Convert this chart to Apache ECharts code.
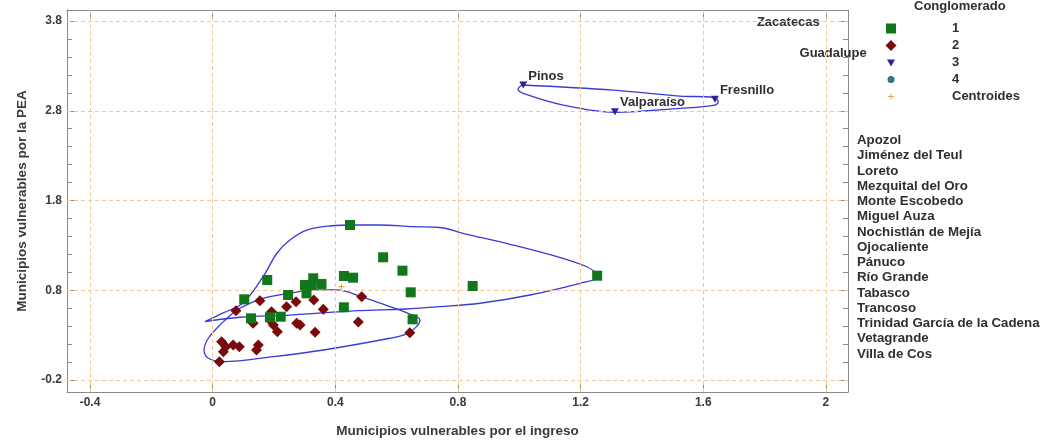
<!DOCTYPE html>
<html>
<head>
<meta charset="utf-8">
<script src="https://cdn.jsdelivr.net/npm/echarts@6/dist/echarts.min.js"></script>
<style>
html,body{margin:0;padding:0;background:#fff;}
#chart{width:1051px;height:443px;}
</style>
</head>
<body>
<div id="chart"></div>
<script>
// ---------- data ----------
const xTickLabels = [-0.4, 0, 0.4, 0.8, 1.2, 1.6, 2];
const yTickLabels = [-0.2, 0.8, 1.8, 2.8, 3.8];
const yMinorTicks = [-0.2,0,0.2,0.4,0.6,0.8,1.0,1.2,1.4,1.6,1.8,2.0,2.2,2.4,2.6,2.8,3.0,3.2,3.4,3.6,3.8];

const cluster1 = [
  [0.448,1.527],[0.556,1.167],[0.619,1.018],[0.646,0.777],[0.848,0.847],[1.254,0.962],
  [0.178,0.914],[0.428,0.959],[0.458,0.940],[0.328,0.933],[0.301,0.858],[0.355,0.870],
  [0.323,0.858],[0.306,0.766],[0.246,0.747],[0.103,0.699],[0.428,0.610],[0.125,0.487],
  [0.187,0.499],[0.222,0.505],[0.652,0.476]
];
const cluster2 = [
  [0.154,0.684],[0.076,0.572],[0.272,0.672],[0.241,0.617],[0.330,0.691],[0.361,0.588],
  [0.486,0.728],[0.475,0.446],[0.643,0.327],[0.334,0.331],[0.274,0.432],[0.285,0.413],
  [0.192,0.561],[0.187,0.469],[0.198,0.413],[0.211,0.338],[0.132,0.432],[0.149,0.190],
  [0.143,0.134],[0.087,0.171],[0.067,0.190],[0.029,0.227],[0.035,0.115],[0.022,0.004],
  [0.043,0.171]
];
const cluster3Names = ["Pinos","Fresnillo","Valparaíso"];
const cluster3 = [[1.013,3.087],[1.638,2.928],[1.312,2.789]];
const cluster4 = [];
const centroids = [[0.42,0.84]];

const outsideLabelNames = ["Zacatecas","Guadalupe"];
const outsideLabelPos = [[1.775,3.79],[1.914,3.443]];

const contour1 = [
  [-0.025,0.450],[0.034,0.547],[0.099,0.658],[0.164,0.948],[0.210,1.215],[0.252,1.360],
  [0.307,1.471],[0.382,1.516],[0.470,1.527],[0.545,1.527],[0.653,1.508],[0.741,1.499],
  [0.816,1.435],[0.979,1.304],[1.123,1.174],[1.220,1.062],[1.253,0.989],[1.263,0.951],
  [1.198,0.877],[1.035,0.747],[0.872,0.655],[0.741,0.617],[0.627,0.591],[0.470,0.572],
  [0.252,0.523],[0.089,0.499],[-0.025,0.450]
];
const contour2 = [
  [0.078,0.580],[0.154,0.699],[0.252,0.766],[0.339,0.803],[0.404,0.803],[0.491,0.721],
  [0.578,0.617],[0.643,0.535],[0.676,0.468],[0.665,0.394],[0.633,0.313],[0.578,0.265],
  [0.361,0.134],[0.198,0.060],[0.035,0.004],[-0.014,0.042],[-0.028,0.134],[-0.014,0.265],
  [0.024,0.414],[0.078,0.580]
];
const contour3 = [
  [1.008,3.087],[1.306,3.031],[1.524,2.964],[1.632,2.950],[1.649,2.901],[1.638,2.864],
  [1.524,2.827],[1.312,2.783],[1.143,2.864],[1.013,2.994],[0.996,3.039],[1.008,3.087]
];

const sideNames = ["Apozol","Jiménez del Teul","Loreto","Mezquital del Oro","Monte Escobedo",
  "Miguel Auza","Nochistlán de Mejía","Ojocaliente","Pánuco","Río Grande","Tabasco",
  "Trancoso","Trinidad García de la Cadena","Vetagrande","Villa de Cos"];

const xTitle = "Municipios vulnerables por el ingreso";
const yTitle = "Municipios vulnerables por la PEA";
const legendTitle = "Conglomerado";

// ---------- chart ----------
const FONT = "Liberation Sans, Arial, sans-serif";
const AXC = "#8a8a8a";
const TXT = "#2f2f2f";
const fmt = v => String(parseFloat(Number(v).toFixed(1)));
const X_MIN = -0.475, X_MAX = 2.072, Y_MIN = -0.334, Y_MAX = 3.923;

// legend icons (padded paths so that the drawn glyphs keep their own size in the legend box)
const ICON_RECT = 'path://M0,0M12,12M1,1H11V11H1Z';
const ICON_DIAMOND = 'path://M0,0M12,12M6,0.5L11.5,6L6,11.5L0.5,6Z';
const ICON_TRI = 'path://M0,0M12,12M2,3H10L6,10Z';
const ICON_CIRCLE = 'path://M0,0M12,12M9.5,6A3.5,3.5,0,1,1,2.5,6A3.5,3.5,0,1,1,9.5,6Z';
const ICON_PLUS = 'path://M0,0M12,12M5.5,3H6.5V5.5H9V6.5H6.5V9H5.5V6.5H3V5.5H5.5Z';
const SYM_TRI = 'path://M0,0L10,0L5,9Z';
const SYM_PLUS = 'path://M4,0H6V4H10V6H6V10H4V6H0V4H4Z';

const chart = echarts.init(document.getElementById('chart'), null, {renderer:'canvas'});

const graphics = [{
  type:'text', left: 914, top: 0,
  style:{text: legendTitle, font: "bold 13px " + FONT, fill:TXT}
}];
sideNames.forEach((n,i) => {
  graphics.push({type:'text', left: 857, top: 134 + i*15.25,
    style:{text:n, font:"bold 13.3px " + FONT, fill:TXT}});
});

const baseX = {
  type:'value', min:X_MIN, max:X_MAX, splitLine:{show:false},
  axisLine:{show:true, onZero:false, lineStyle:{color:AXC, width:1}},
};
const baseY = {
  type:'value', min:Y_MIN, max:Y_MAX, splitLine:{show:false},
  axisLine:{show:true, onZero:false, lineStyle:{color:AXC, width:1}},
};

const labelFont = {fontFamily:FONT, fontWeight:'bold', fontSize:13, color:TXT};

const option = {
  animation:false,
  backgroundColor:'#fff',
  textStyle:{fontFamily:FONT},
  grid:{left:67, right:203, top:10, bottom:51, containLabel:false},
  graphic: graphics,
  legend:{
    orient:'vertical', left:880, top:17, itemWidth:12, itemHeight:12, itemGap:4,
    selectedMode:false,
    textStyle:{fontFamily:FONT, fontWeight:'bold', fontSize:13, color:TXT, padding:[0,0,0,50]},
    data:[
      {name:'1', icon:ICON_RECT},
      {name:'2', icon:ICON_DIAMOND},
      {name:'3', icon:ICON_TRI},
      {name:'4', icon:ICON_CIRCLE},
      {name:'Centroides', icon:ICON_PLUS}
    ]
  },
  xAxis:[
    Object.assign({}, baseX, {
      position:'bottom',
      name:xTitle, nameLocation:'middle', nameGap:32,
      nameTextStyle:{fontFamily:FONT, fontWeight:'bold', fontSize:13.5, color:'#3a3a3a'},
      axisTick:{show:true, inside:true, length:8, lineStyle:{color:AXC}, customValues:xTickLabels},
      axisLabel:{show:true, customValues:xTickLabels, formatter:fmt, margin:5,
        fontFamily:FONT, fontWeight:'bold', fontSize:12, color:'#3a3a3a'}
    }),
    Object.assign({}, baseX, {
      position:'top',
      axisTick:{show:true, inside:true, length:8, lineStyle:{color:AXC}, customValues:xTickLabels},
      axisLabel:{show:false}
    })
  ],
  yAxis:[
    Object.assign({}, baseY, {
      position:'left',
      name:yTitle, nameLocation:'middle', nameGap:38, nameRotate:90,
      nameTextStyle:{fontFamily:FONT, fontWeight:'bold', fontSize:13.5, color:'#3a3a3a'},
      axisTick:{show:true, inside:true, length:9, lineStyle:{color:AXC}, customValues:yTickLabels},
      axisLabel:{show:true, customValues:yTickLabels, formatter:fmt, margin:5,
        fontFamily:FONT, fontWeight:'bold', fontSize:12, color:'#3a3a3a'}
    }),
    Object.assign({}, baseY, {
      position:'left',
      axisLine:{show:false, onZero:false},
      axisTick:{show:true, inside:true, length:5, lineStyle:{color:AXC}, customValues:yMinorTicks},
      axisLabel:{show:false}
    }),
    Object.assign({}, baseY, {
      position:'right',
      axisTick:{show:true, inside:true, length:9, lineStyle:{color:AXC}, customValues:yTickLabels},
      axisLabel:{show:false}
    }),
    Object.assign({}, baseY, {
      position:'right',
      axisLine:{show:false, onZero:false},
      axisTick:{show:true, inside:true, length:5, lineStyle:{color:AXC}, customValues:yMinorTicks},
      axisLabel:{show:false}
    })
  ],
  series:[
    {
      name:'grid', type:'line', data:[], silent:true,
      markLine:{
        silent:true, symbol:['none','none'], animation:false,
        label:{show:false},
        lineStyle:{color:'#f3c895', width:1, type:[4,3]},
        data: xTickLabels.map(v => ({xAxis:v})).concat(yTickLabels.map(v => ({yAxis:v})))
      }
    },
    {
      name:'c1', type:'line', data:contour1, smooth:0.35, showSymbol:false, symbol:'none', silent:true,
      lineStyle:{color:'#3a3ad6', width:1.3}, z:3
    },
    {
      name:'c2', type:'line', data:contour2, smooth:0.35, showSymbol:false, symbol:'none', silent:true,
      lineStyle:{color:'#3a3ad6', width:1.3}, z:3
    },
    {
      name:'c3', type:'line', data:contour3, smooth:0.35, showSymbol:false, symbol:'none', silent:true,
      lineStyle:{color:'#3a3ad6', width:1.3}, z:3
    },
    {
      name:'2', type:'scatter', data:cluster2, symbol:'diamond', symbolSize:11,
      itemStyle:{color:'#7a0a0a', opacity:1}, z:4
    },
    {
      name:'1', type:'scatter', data:cluster1, symbol:'rect', symbolSize:10,
      itemStyle:{color:'#12761a', opacity:1}, z:5
    },
    {
      name:'3', type:'scatter', symbol:SYM_TRI, symbolSize:[8,7],
      data: cluster3.map((p,i) => ({name:cluster3Names[i], value:p})),
      itemStyle:{color:'#30209a', opacity:1}, z:5,
      label:Object.assign({show:true, formatter:'{b}', position:'right', distance:1, offset:[0,-9]}, labelFont)
    },
    {
      name:'4', type:'scatter', symbol:'circle', symbolSize:6, data:cluster4,
      itemStyle:{color:'#2e7a78', opacity:1}
    },
    {
      name:'Centroides', type:'scatter', symbol:SYM_PLUS, symbolSize:6,
      data:centroids, itemStyle:{color:'#e6a35a', opacity:1}, z:6
    },
    {
      name:'labels', type:'scatter', symbolSize:0, silent:true, clip:false,
      itemStyle:{opacity:1},
      data: outsideLabelPos.map((p,i) => ({name:outsideLabelNames[i], value:p})),
      label:Object.assign({show:true, formatter:'{b}', position:'right', distance:0}, labelFont)
    }
  ]
};
chart.setOption(option);
</script>
</body>
</html>
